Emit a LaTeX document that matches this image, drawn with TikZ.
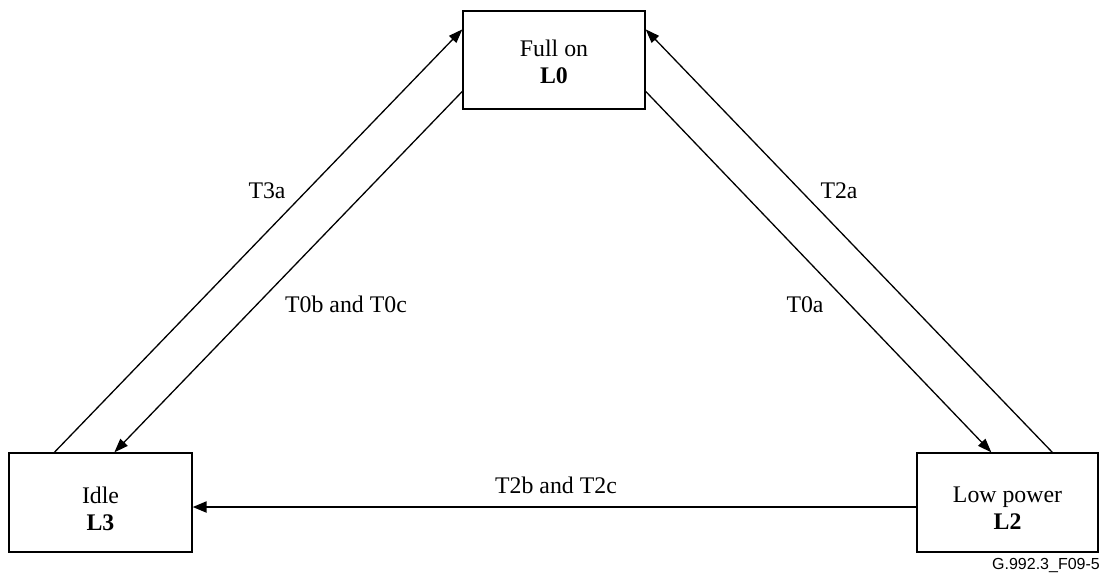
\documentclass[tikz,border=0pt]{standalone}
\usepackage{fontspec}
\setmainfont{Liberation Serif}
\newfontfamily\figsans{Liberation Sans}
\usetikzlibrary{arrows.meta,calc}
\tikzset{
  statebox/.style={draw=black, line width=1.3pt, minimum width=182pt, minimum height=98pt, inner sep=0pt, fill=white},
  boxtext/.style={inner sep=0pt, align=center, anchor=north, font=\fontsize{23.8}{27}\selectfont},
  lbl/.style={inner sep=0pt, anchor=base, font=\fontsize{23.8}{27}\selectfont},
  conn/.style={line width=1.3pt, -{Triangle[length=14pt,width=10pt]}},
  hconn/.style={line width=2.2pt, -{Triangle[length=14pt,width=11pt]}}
}
\begin{document}
\begin{tikzpicture}[x=1pt,y=-1pt]
\useasboundingbox (0,0) rectangle (1102,574);
\node[statebox, minimum width=182pt, minimum height=98pt] (L0) at (554,60) {};
\node[statebox, minimum width=183pt, minimum height=99pt] (L3) at (100.5,502.5) {};
\node[statebox, minimum width=181pt, minimum height=99pt] (L2) at (1007.5,502.5) {};
\node[boxtext] (L0t) at (554,39.7) {Full on\\\textbf{L0}};
\node[boxtext] (L3t) at (100.5,486.7) {Idle\\\textbf{L3}};
\node[boxtext] (L2t) at (1007.5,486.7) {Low power\\\textbf{L2}};
% connectors
\draw[conn] ($(L3.north west)+(46,0)$) -- ($(L0.north west)+(0,19)$);
\draw[conn] ($(L0.north west)+(0,81)$) -- ($(L3.north west)+(106,0)$);
\draw[conn] ($(L0.north east)+(0,81)$) -- ($(L2.north west)+(75,0)$);
\draw[conn] ($(L2.north west)+(136,0)$) -- ($(L0.north east)+(0,19)$);
\draw[hconn] ($(L2.west)+(0,4.5)$) -- ($(L3.east)+(0,4.5)$);
% labels
\node[lbl] (t3a) at (267,198) {T3a};
\node[lbl] (t0b) at (346,312) {T0b and T0c};
\node[lbl] (t0a) at (805,312) {T0a};
\node[lbl] (t2a) at (839,198) {T2a};
\node[lbl] (t2b) at (556,493) {T2b and T2c};
\node[inner sep=0pt, anchor=base east, font=\figsans\fontsize{16}{18}\selectfont] (fig) at (1100,569) {G.992.3\_F09-5};
\end{tikzpicture}
\end{document}
